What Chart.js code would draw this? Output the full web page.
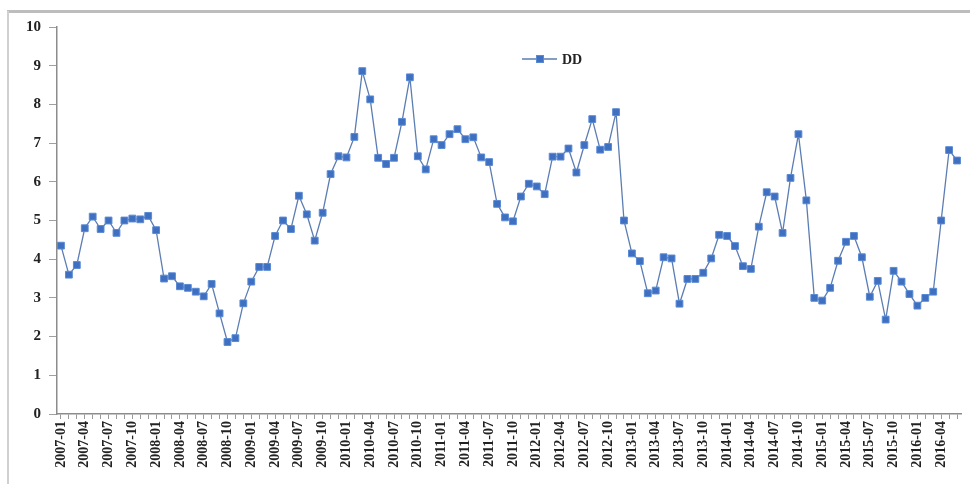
<!DOCTYPE html>
<html>
<head>
<meta charset="utf-8">
<script src="https://cdn.jsdelivr.net/npm/chart.js@4.4.1/dist/chart.umd.min.js"></script>
<style>
  html, body { margin: 0; padding: 0; background: #fff; }
  #wrap { position: relative; width: 970px; height: 484px; }
</style>
</head>
<body>
<div id="wrap"><canvas id="ddChart" width="970" height="484"></canvas></div>
<script>
// monthly categories 2007-01 .. 2016-06
const years = [2007, 2008, 2009, 2010, 2011, 2012, 2013, 2014, 2015, 2016];
const monthNames = ['01','02','03','04','05','06','07','08','09','10','11','12'];
const lastMonthCount = 6;

const months = [];
years.forEach((y, yi) => {
  const n = yi === years.length - 1 ? lastMonthCount : 12;
  for (let m = 0; m < n; m++) months.push(y + '-' + monthNames[m]);
});

// DD series, one row per year
const dd2007 = [4.35, 3.6, 3.85, 4.8, 5.1, 4.78, 5.0, 4.68, 5.0, 5.05, 5.03, 5.12];
const dd2008 = [4.75, 3.5, 3.56, 3.3, 3.26, 3.16, 3.04, 3.36, 2.6, 1.86, 1.96, 2.86];
const dd2009 = [3.42, 3.8, 3.8, 4.6, 5.0, 4.78, 5.64, 5.16, 4.48, 5.2, 6.2, 6.66];
const dd2010 = [6.63, 7.16, 8.86, 8.13, 6.62, 6.46, 6.62, 7.55, 8.7, 6.66, 6.32, 7.1];
const dd2011 = [6.95, 7.23, 7.36, 7.1, 7.15, 6.63, 6.51, 5.43, 5.08, 4.98, 5.62, 5.95];
const dd2012 = [5.88, 5.68, 6.65, 6.65, 6.86, 6.24, 6.95, 7.62, 6.83, 6.9, 7.8, 5.0];
const dd2013 = [4.15, 3.95, 3.12, 3.19, 4.05, 4.02, 2.85, 3.49, 3.49, 3.65, 4.02, 4.63];
const dd2014 = [4.6, 4.34, 3.82, 3.75, 4.84, 5.73, 5.62, 4.68, 6.1, 7.23, 5.52, 3.0];
const dd2015 = [2.93, 3.26, 3.96, 4.45, 4.6, 4.05, 3.03, 3.44, 2.44, 3.7, 3.42, 3.1];
const dd2016 = [2.8, 3.0, 3.16, 5.0, 6.82, 6.55];

const ddValues = [].concat(dd2007, dd2008, dd2009, dd2010, dd2011,
                           dd2012, dd2013, dd2014, dd2015, dd2016);

const labelEvery = 3;
const yTicks = [0, 1, 2, 3, 4, 5, 6, 7, 8, 9, 10];

const lineColor = '#5b7db3';
const markerFill = '#3e6fc0';
const markerEdge = '#5a8ad4';
const serif = '"Liberation Serif", "Times New Roman", serif';

// outer frame of the figure
const framePlugin = {
  id: 'frame',
  beforeDraw(chart) {
    const c = chart.ctx;
    c.save();
    c.fillStyle = '#fff';
    c.fillRect(0, 0, chart.width, chart.height);
    c.strokeStyle = '#bdbdbd';
    c.lineWidth = 3;
    c.beginPath();
    c.moveTo(7, 11.5);
    c.lineTo(chart.width, 11.5);
    c.stroke();
    c.strokeStyle = '#d0d0d0';
    c.lineWidth = 2;
    c.beginPath();
    c.moveTo(8, 11);
    c.lineTo(8, chart.height);
    c.stroke();
    c.restore();
  }
};

// legend drawn inside the plot, upper middle
const ddLegend = {
  id: 'ddLegend',
  afterDraw(chart) {
    const c = chart.ctx;
    const ds = chart.data.datasets[0];
    const x0 = 522, x1 = 557, y = 59;
    c.save();
    c.strokeStyle = lineColor;
    c.lineWidth = 1.3;
    c.beginPath();
    c.moveTo(x0, y);
    c.lineTo(x1, y);
    c.stroke();
    c.fillStyle = markerFill;
    c.strokeStyle = markerEdge;
    c.lineWidth = 1;
    c.fillRect(536.5, y - 3.5, 7, 7);
    c.strokeRect(536.5, y - 3.5, 7, 7);
    c.fillStyle = '#222';
    c.font = 'bold 14px ' + serif;
    c.textBaseline = 'middle';
    c.fillText(ds.label, 562, y + 1);
    c.restore();
  }
};

new Chart(document.getElementById('ddChart'), {
  type: 'line',
  data: {
    labels: months,
    datasets: [{
      label: 'DD',
      data: ddValues,
      borderColor: lineColor,
      borderWidth: 1.3,
      pointStyle: 'rect',
      pointRadius: 4.8,
      pointBackgroundColor: markerFill,
      pointBorderColor: markerEdge,
      pointBorderWidth: 1,
      tension: 0,
      fill: false
    }]
  },
  options: {
    responsive: false,
    animation: false,
    devicePixelRatio: 1,
    layout: { padding: { top: 27, right: 9, left: 0, bottom: 0 } },
    plugins: {
      legend: { display: false },
      tooltip: { enabled: false }
    },
    scales: {
      x: {
        offset: true,
        afterFit(scale) {
          scale.height = 70;
          scale.paddingLeft = 0;
          scale.paddingRight = 0;
        },
        grid: {
          offset: false,
          drawOnChartArea: false,
          drawTicks: true,
          tickLength: 5,
          color: '#9a9a9a'
        },
        border: { display: true, color: '#8c8c8c', width: 1.5 },
        ticks: {
          autoSkip: false,
          minRotation: 90,
          maxRotation: 90,
          padding: 2,
          color: '#222',
          font: { family: serif, size: 14, weight: 'bold' },
          callback(val, i) { return i % labelEvery === 0 ? months[i] : ''; }
        }
      },
      y: {
        min: yTicks[0],
        max: yTicks[yTicks.length - 1],
        afterFit(scale) { scale.width = 57; },
        afterBuildTicks(scale) { scale.ticks = yTicks.map(v => ({ value: v })); },
        grid: {
          drawOnChartArea: false,
          drawTicks: true,
          tickLength: 8,
          color: '#a0a0a0'
        },
        border: { display: true, color: '#8c8c8c', width: 1.5 },
        ticks: {
          padding: 8,
          color: '#222',
          font: { family: serif, size: 15, weight: 'bold' }
        }
      }
    }
  },
  plugins: [framePlugin, ddLegend]
});
</script>
</body>
</html>
